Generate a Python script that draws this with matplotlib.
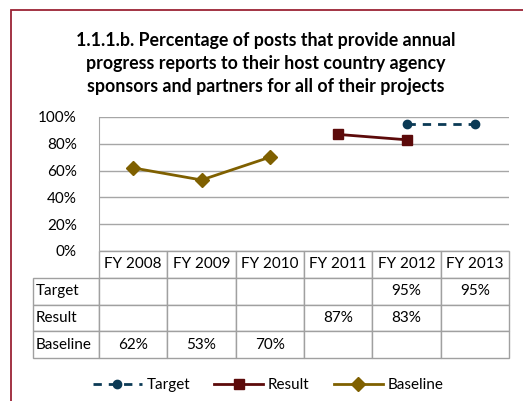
import matplotlib
matplotlib.use("Agg")
import matplotlib.pyplot as plt
from matplotlib.patches import Rectangle
from matplotlib.ticker import PercentFormatter

categories = ["FY 2008", "FY 2009", "FY 2010", "FY 2011", "FY 2012", "FY 2013"]
target = [None, None, None, None, 95, 95]
result = [None, None, None, 87, 83, None]
baseline = [62, 53, 70, None, None, None]
series_names = ["Target", "Result", "Baseline"]
yticks = [0, 20, 40, 60, 80, 100]

plt.rcParams['font.family'] = ['Lato', 'DejaVu Sans']

W, H = 523, 401
fig = plt.figure(figsize=(W / 100, H / 100), dpi=100)

# figure border
fig.patches.append(Rectangle((11 / W, -0.1), 1.2, 1 - 10 / H + 0.1, transform=fig.transFigure,
                             fill=False, edgecolor='#9B2335', linewidth=1.3))

fig.text(266 / W, 1 - 32 / H,
         "1.1.1.b. Percentage of posts that provide annual\nprogress reports to their host country agency\nsponsors and partners for all of their projects",
         ha='center', va='top', fontsize=12.8, fontweight='bold', linespacing=1.42)

ax_l, ax_r, ax_t, ax_b = 99, 509, 117, 251
ax = fig.add_axes([ax_l / W, 1 - ax_b / H, (ax_r - ax_l) / W, (ax_b - ax_t) / H])

x = list(range(len(categories)))

def pts(vals):
    xs = [i for i, v in zip(x, vals) if v is not None]
    ys = [v for v in vals if v is not None]
    return xs, ys

c_t, c_r, c_b = '#0B3A55', '#5C0A0A', '#7F6000'
lt, = ax.plot(*pts(target), color=c_t, linestyle=(0, (3, 2.5)), linewidth=2, marker='o', markersize=6, label='Target')
lr, = ax.plot(*pts(result), color=c_r, linewidth=2, marker='s', markersize=7.5, label='Result')
lb, = ax.plot(*pts(baseline), color=c_b, linewidth=2, marker='D', markersize=7, label='Baseline')

ax.set_xlim(-0.5, len(categories) - 0.5)
ax.set_ylim(0, 100)
ax.set_yticks(yticks)
ax.yaxis.set_major_formatter(PercentFormatter(decimals=0))
ax.tick_params(axis='y', length=0, labelsize=11, pad=16)
ax.tick_params(axis='x', length=0, labelbottom=False)
ax.grid(axis='y', color='#A6A6A6', linewidth=1)
ax.set_axisbelow(True)
for s in ['top', 'right', 'bottom']:
    ax.spines[s].set_visible(False)
ax.spines['left'].set_color('#A6A6A6')

# data table
def fmt(v):
    return "" if v is None else f"{v}%"

cell_text = [[fmt(v) for v in target], [fmt(v) for v in result], [fmt(v) for v in baseline]]
axw = ax_r - ax_l
axh = ax_b - ax_t
lab_w = (ax_l - 33) / axw
tbl = ax.table(cellText=cell_text, rowLabels=series_names, colLabels=categories,
               colWidths=[1 / 6] * 6, rowLoc='left', cellLoc='center', colLoc='center',
               bbox=[0, -(358 - ax_b) / axh, 1, (358 - ax_b) / axh])
tbl._autoColumns = []
tbl.auto_set_font_size(False)
for (r, c), cell in tbl.get_celld().items():
    cell.set_edgecolor('#A0A0A0')
    cell.set_linewidth(1)
    cell.get_text().set_fontsize(11)
    if c == -1:
        cell.set_width(lab_w)
        cell.PAD = 0.04

leg = fig.legend(handles=[lt, lr, lb], loc='center', bbox_to_anchor=(268 / W, 1 - 385 / H),
                 ncol=3, frameon=False, fontsize=11, handlelength=3.2, columnspacing=1.6,
                 handletextpad=0.3)

fig.savefig("out.png", dpi=100)
